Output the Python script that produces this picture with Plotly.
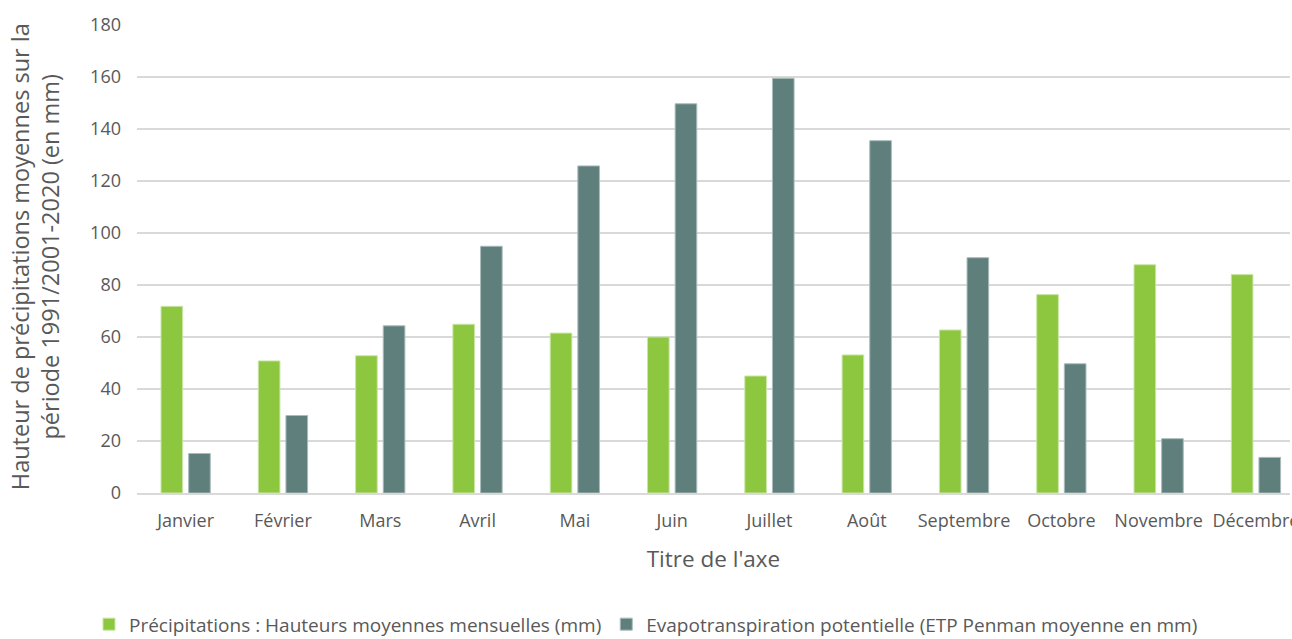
import plotly.graph_objects as go

months = ["Janvier", "Février", "Mars", "Avril", "Mai", "Juin", "Juillet",
          "Août", "Septembre", "Octobre", "Novembre", "Décembre"]
precip = [71.8, 50.8, 52.8, 64.9, 61.5, 60.0, 45.0, 53.1, 62.7, 76.3, 87.8, 84.0]
etp = [15.2, 29.8, 64.3, 94.9, 125.8, 149.7, 159.5, 135.5, 90.5, 49.7, 20.9, 13.7]

name_p = "Précipitations : Hauteurs moyennes mensuelles (mm)"
name_e = "Evapotranspiration potentielle (ETP Penman moyenne en mm)"
y_ticks = [0, 20, 40, 60, 80, 100, 120, 140, 160, 180]

FONT = "Open Sans"
TXT = "#595959"

fig = go.Figure()
fig.add_trace(go.Bar(x=months, y=precip, name=name_p,
                     marker=dict(color="#8DC63F", line=dict(color="#C9E6A6", width=1))))
fig.add_trace(go.Bar(x=months, y=etp, name=name_e,
                     marker=dict(color="#5F7F7D", line=dict(color="#A9BCBB", width=1))))

fig.update_layout(
    width=1292, height=639,
    margin=dict(l=137, r=2, t=25, b=146),
    paper_bgcolor="white", plot_bgcolor="white",
    barmode="group", bargap=0.432, bargroupgap=0.217,
    font=dict(family=FONT, color=TXT, size=18),
    showlegend=True,
    legend=dict(orientation="h", xref="container", yref="container",
                x=0.5, xanchor="center", y=0.023, yanchor="middle",
                font=dict(size=19, color=TXT), itemwidth=30,
                tracegroupgap=0),
    xaxis=dict(range=[-0.5, 11.35], showgrid=False, showline=True,
               linecolor="#D9D9D9", linewidth=1.5, ticks="",
               tickfont=dict(size=18, color=TXT), automargin=False,
               ticklabelstandoff=11,
               title=dict(text="Titre de l'axe", font=dict(size=22.5, color=TXT),
                          standoff=20)),
    yaxis=dict(range=[0, 180], tickvals=y_ticks, showgrid=True,
               gridcolor="#D9D9D9", gridwidth=1.5, zeroline=False,
               showline=False, ticks="", automargin=False,
               tickfont=dict(size=18, color=TXT), ticklabelstandoff=15),
    annotations=[dict(text="Hauteur de précipitations moyennes sur la<br>période 1991/2001-2020 (en mm)",
                      xref="paper", yref="paper", x=-0.088, y=0.505,
                      xanchor="center", yanchor="middle", textangle=-90,
                      showarrow=False, font=dict(size=23.5, color=TXT))],
)

fig.write_html("out.html")
